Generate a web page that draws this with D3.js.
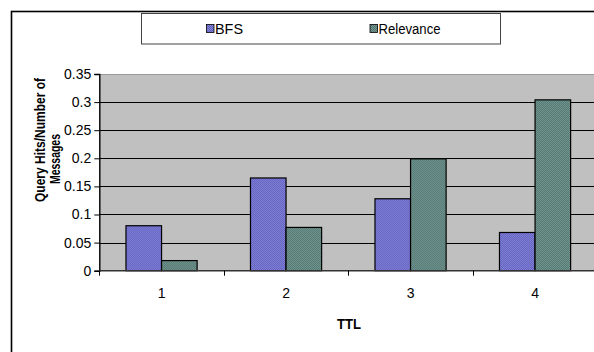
<!DOCTYPE html>
<html>
<head>
<meta charset="utf-8">
<script src="https://cdn.jsdelivr.net/npm/d3@7"></script>
<style>
  html, body { margin: 0; padding: 0; background: #fff; }
  svg { display: block; font-family: "Liberation Sans", Arial, sans-serif; }
</style>
</head>
<body>
<svg id="chart" width="594" height="352"></svg>
<script>
// TTL levels on the x axis
const categories = ["1", "2", "3", "4"];
// Series names, in legend order
const seriesNames = ["BFS", "Relevance"];
// Query hits per message for each TTL
const bfsValues = [0.080, 0.165, 0.128, 0.068];
const relevanceValues = [0.018, 0.077, 0.199, 0.304];
// Value-axis tick labels
const yTicks = [0, 0.05, 0.1, 0.15, 0.2, 0.25, 0.3, 0.35];

const seriesValues = { "BFS": bfsValues, "Relevance": relevanceValues };

const svg = d3.select("#chart");
const defs = svg.append("defs");

// Dithered fills for the two series
function dither(id, light, dark) {
  const p = defs.append("pattern")
    .attr("id", id).attr("patternUnits", "userSpaceOnUse")
    .attr("width", 2).attr("height", 2);
  p.append("rect").attr("width", 2).attr("height", 2).attr("fill", light);
  p.append("rect").attr("width", 1).attr("height", 1).attr("fill", dark);
  p.append("rect").attr("x", 1).attr("y", 1).attr("width", 1).attr("height", 1).attr("fill", dark);
}
dither("fillBFS", "#8585e0", "#5f5fb8");
dither("fillRel", "#7a9c96", "#4d716c");
const fills = { "BFS": "url(#fillBFS)", "Relevance": "url(#fillRel)" };

// Chart frame
svg.append("rect")
  .attr("x", 11.5).attr("y", 11.5).attr("width", 700).attr("height", 500)
  .attr("fill", "#fff").attr("stroke", "#000").attr("stroke-width", 1.6);

const plot = { left: 99.3, right: 597.3, top: 74, bottom: 270.7 };

const x = d3.scaleBand().domain(categories).range([plot.left, plot.right]).paddingInner(0).paddingOuter(0);
const xs = d3.scaleBand().domain(seriesNames).range([0, x.bandwidth()]).paddingInner(0).paddingOuter(0.75);
const y = d3.scaleLinear().domain([0, 0.35]).range([plot.bottom, plot.top]);

// Plot background
svg.append("rect")
  .attr("x", plot.left).attr("y", plot.top)
  .attr("width", plot.right - plot.left).attr("height", plot.bottom - plot.top)
  .attr("fill", "#c0c0c0");
svg.append("line")
  .attr("x1", plot.left).attr("x2", plot.right)
  .attr("y1", plot.top + 0.5).attr("y2", plot.top + 0.5)
  .attr("stroke", "#9a9a9a").attr("stroke-width", 1);

// Horizontal gridlines
svg.append("g").selectAll("line")
  .data(yTicks.filter(t => t > 0 && t < 0.35))
  .join("line")
  .attr("x1", plot.left).attr("x2", plot.right)
  .attr("y1", d => Math.round(y(d)) + 0.5).attr("y2", d => Math.round(y(d)) + 0.5)
  .attr("stroke", "#000").attr("stroke-width", 1);

// Bars
const groups = svg.append("g").selectAll("g")
  .data(categories)
  .join("g")
  .attr("transform", d => `translate(${x(d)},0)`);
groups.selectAll("rect")
  .data((c, i) => seriesNames.map(s => ({ s, v: seriesValues[s][i] })))
  .join("rect")
  .attr("x", d => xs(d.s))
  .attr("width", xs.bandwidth())
  .attr("y", d => y(d.v))
  .attr("height", d => y(0) - y(d.v))
  .attr("fill", d => fills[d.s])
  .attr("stroke", "#000").attr("stroke-width", 1.2);

// Value axis
const yAxis = svg.append("g")
  .attr("transform", `translate(${plot.left},0)`)
  .call(d3.axisLeft(y).tickValues(yTicks).tickSize(5).tickPadding(3)
    .tickFormat(d => d === 0 ? "0" : String(+d.toFixed(2))));
yAxis.select(".domain").attr("stroke", "#000").attr("stroke-width", 1.4);
yAxis.selectAll(".tick line").attr("stroke", "#000");
yAxis.selectAll("text").attr("font-size", 14).attr("fill", "#000")
  .attr("font-family", "Liberation Sans, Arial, sans-serif");

// Category axis
svg.append("line")
  .attr("x1", plot.left).attr("x2", plot.right)
  .attr("y1", plot.bottom).attr("y2", plot.bottom)
  .attr("stroke", "#333").attr("stroke-width", 1.4);
svg.append("g").selectAll("line")
  .data(categories)
  .join("line")
  .attr("x1", d => Math.round(x(d)) + 0.5).attr("x2", d => Math.round(x(d)) + 0.5)
  .attr("y1", plot.bottom).attr("y2", plot.bottom + 5)
  .attr("stroke", "#000");
svg.append("g").selectAll("text")
  .data(categories)
  .join("text")
  .attr("x", d => x(d) + x.bandwidth() / 2)
  .attr("y", 298)
  .attr("text-anchor", "middle")
  .attr("font-size", 14)
  .text(d => d);

// Axis titles
svg.append("text")
  .attr("x", 349).attr("y", 329)
  .attr("text-anchor", "middle")
  .attr("font-size", 14).attr("font-weight", "bold")
  .attr("textLength", 24).attr("lengthAdjust", "spacingAndGlyphs")
  .text("TTL");
svg.append("text")
  .attr("transform", "translate(45,140) rotate(-90)")
  .attr("text-anchor", "middle")
  .attr("font-size", 14.5).attr("font-weight", "bold")
  .attr("textLength", 124).attr("lengthAdjust", "spacingAndGlyphs")
  .text("Query Hits/Number of");
svg.append("text")
  .attr("transform", "translate(60,159) rotate(-90)")
  .attr("text-anchor", "middle")
  .attr("font-size", 14.5).attr("font-weight", "bold")
  .attr("textLength", 50).attr("lengthAdjust", "spacingAndGlyphs")
  .text("Messages");

// Legend
const legend = svg.append("g");
legend.append("rect")
  .attr("x", 141.5).attr("y", 13.5).attr("width", 359).attr("height", 30.5)
  .attr("fill", "#fff").attr("stroke", "#444").attr("stroke-width", 1);
const legendX = { "BFS": 206, "Relevance": 369.5 };
const legendTextLen = { "BFS": 28, "Relevance": 62 };
seriesNames.forEach(s => {
  legend.append("rect")
    .attr("x", legendX[s] + 0.5).attr("y", 24.5).attr("width", 7.5).attr("height", 8)
    .attr("fill", fills[s]).attr("stroke", "#000").attr("stroke-width", 0.8);
  legend.append("text")
    .attr("x", legendX[s] + 9).attr("y", 33.5)
    .attr("font-size", 14)
    .attr("textLength", legendTextLen[s]).attr("lengthAdjust", "spacingAndGlyphs")
    .text(s);
});
</script>
</body>
</html>
